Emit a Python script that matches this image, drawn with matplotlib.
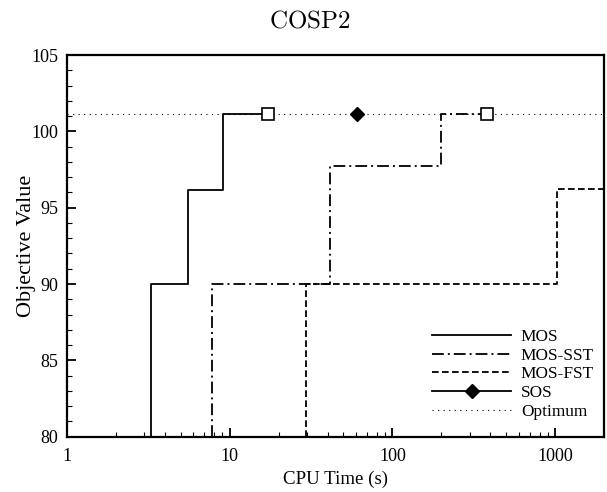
import matplotlib
matplotlib.use('Agg')
import matplotlib.pyplot as plt
from matplotlib.ticker import FixedLocator, MultipleLocator, LogLocator, NullFormatter

plt.rcParams['font.family'] = ['Liberation Serif', 'DejaVu Serif']
plt.rcParams['mathtext.fontset'] = 'cm'
plt.rcParams['lines.scale_dashes'] = False

# 数据
optimum = 101.15

mos_t = [3.27, 3.27, 5.56, 9.1, 17.2]
mos_v = [80, 90, 96.15, optimum, optimum]

sst_t = [7.83, 7.83, 41.4, 200, 381]
sst_v = [80, 90, 97.7, optimum, optimum]

fst_t = [29.5, 29.5, 1024, 2000]
fst_v = [80, 90, 96.25, 96.25]

sos_t = [60.5]
sos_v = [optimum]

# 找到最优解的终点
end_t = [mos_t[-1], sst_t[-1]]
end_v = [mos_v[-1], sst_v[-1]]

fig = plt.figure(figsize=(6.07, 4.92), dpi=100)
ax = fig.add_axes([0.1099, 0.1124, 0.8857, 0.7758])

lw = 1.3
ax.plot(mos_t, mos_v, color='k', lw=lw, drawstyle='steps-post', label='MOS')
ax.plot(sst_t, sst_v, color='k', lw=lw, drawstyle='steps-post',
        linestyle=(0, (8.5, 2.9, 1.4, 2.9)), label='MOS-SST')
ax.plot(fst_t, fst_v, color='k', lw=lw, drawstyle='steps-post',
        linestyle=(0, (4.8, 2.4)), label='MOS-FST')
ax.plot(sos_t, sos_v, color='k', lw=lw, marker='D', markersize=7, label='SOS')
ax.axhline(optimum, color='k', lw=0.8, linestyle=(0, (0.8, 3.2)), label='Optimum')
ax.plot(end_t, end_v, linestyle='none', marker='s', markersize=8,
        mfc='white', mec='k', mew=1.2, zorder=5)

ax.set_xscale('log')
ax.set_xlim(1, 2000)
ax.set_ylim(80, 105)
ax.xaxis.set_major_locator(FixedLocator([1, 10, 100, 1000]))
ax.set_xticklabels(['1', '10', '100', '1000'])
ax.xaxis.set_minor_locator(LogLocator(base=10, subs=range(2, 10)))
ax.xaxis.set_minor_formatter(NullFormatter())
ax.yaxis.set_major_locator(MultipleLocator(5))
ax.yaxis.set_minor_locator(MultipleLocator(1))

ax.tick_params(which='both', direction='in', top=False, right=False, labelsize=13)
ax.tick_params(which='major', length=6.5, width=1.3)
ax.tick_params(which='minor', length=3.6, width=0.8)
ax.tick_params(axis='y', pad=6)
ax.tick_params(axis='x', pad=8)
for s in ax.spines.values():
    s.set_linewidth(1.6)

ax.set_xlabel('CPU Time (s)', fontsize=13.6, labelpad=4)
ax.set_ylabel('Objective Value', fontsize=16, labelpad=-3)
fig.text(0.51, 1 - 22 / 492, r'$\mathrm{COSP2}$', fontsize=18, ha='center', va='center')

ax.legend(loc='lower left', bbox_to_anchor=(0.67, 0.03), frameon=False, fontsize=12.4,
          handlelength=4.6, handletextpad=0.55, labelspacing=0.16, borderpad=0.3,
          borderaxespad=0)

fig.savefig('out.png', dpi=100)
